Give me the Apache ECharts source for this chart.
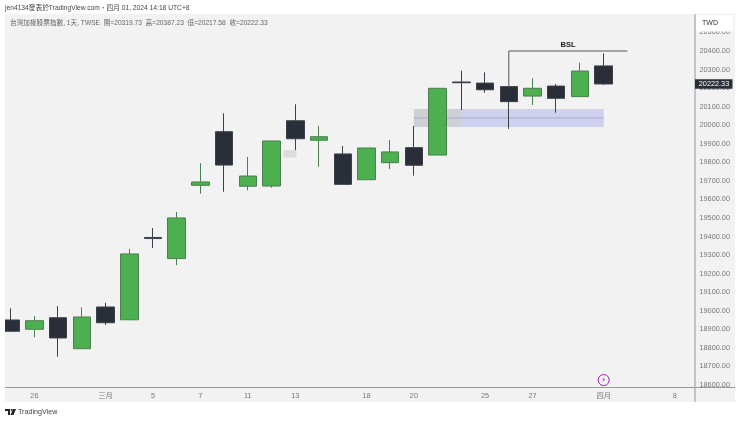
<!DOCTYPE html>
<html>
<head>
<meta charset="utf-8">
<style>html,body{margin:0;padding:0;background:#fff}#c{width:740px;height:421px}</style>
<script src="https://cdn.jsdelivr.net/npm/echarts@6/dist/echarts.min.js"></script>
</head>
<body>
<div id="c"></div>
<script>
// open, close, low, high for each trading day, in order
const opens  = [18950,18900,18962,18795,19020,18951,19395,19281,19676,19965,19671,19672,20024,19919,19845,19706,19798,19879,19839,20233,20227,20208,20157,20211,20154,20319.73];
const closes = [18889,18946,18853,18966,18935,19306,19389,19500,19694,19785,19726,19915,19927,19938,19681,19877,19856,19784,20199,20229,20191,20127,20199,20145,20292,20222.33];
const lows   = [18885,18857,18752,18795,18923,18950,19338,19246,19631,19641,19649,19663,19866,19776,19681,19706,19764,19728,19839,20082,20175,19980,20109,20067,20154,20217.58];
const highs  = [19013,18971,19025,19018,19043,19333,19446,19532,19795,20064,19829,19915,20113,19996,19888,19877,19920,19996,20199,20294,20285,20208,20253,20222,20337,20387.23];

const xTickIndex  = [1,4,6,8,10,12,15,17,20,22,25,28];
const xTickLabels = ['26','三月','5','7','11','13','18','20','25','27','四月','8'];
const yTicks = [18600,18700,18800,18900,19000,19100,19200,19300,19400,19500,19600,19700,19800,19900,20000,20100,20200,20300,20400,20500];

const bslLevel = 20400, bslStartIndex = 21, bslEndIndex = 26, bslLabelIndex = 23.5;
const zoneTop = 20087, zoneBottom = 19990, zoneMid = 20039;
const zoneStartIndex = 17, zoneSplitIndex = 19, zoneEndIndex = 25;
const grayBox = [11.5, 12.05, 19866, 19826];
const flashPoint = [25, 18626];

const shareLine = 'jen4134發表於TradingView.com・四月 01, 2024 14:18 UTC+8';
const legendLine = '台灣加權股票指數, 1天, TWSE  開=20319.73  高=20387.23  低=20217.58  收=20222.33';

const FONT = '"Liberation Sans","Noto Sans CJK TC",sans-serif';
const candles = opens.map((o,i)=>[i,o,closes[i],lows[i],highs[i]]);
const chart = echarts.init(document.getElementById('c'),null,{renderer:'canvas'});
const baseGraphics = [
  {type:'rect',silent:true,z:-10,shape:{x:695,y:14,width:40,height:388},style:{fill:'#f2f2f2'}},
  {type:'rect',silent:true,z:-10,shape:{x:5,y:387,width:730,height:15},style:{fill:'#f2f2f2'}},
  {type:'rect',silent:true,z:30,shape:{x:0,y:14,width:5,height:374},style:{fill:'#ffffff'}},
  {type:'line',silent:true,z:20,shape:{x1:5,y1:387.5,x2:735,y2:387.5},style:{stroke:'#9a9a9a',lineWidth:1}},
  {type:'line',silent:true,z:20,shape:{x1:695,y1:14,x2:695,y2:402},style:{stroke:'#b4b4b4',lineWidth:1.5}},
  {type:'rect',silent:true,z:21,shape:{x:696,y:15,width:37,height:16.5},style:{fill:'#ffffff'}},
  {type:'text',silent:true,z:22,x:702,y:23.5,style:{text:'TWD',font:'7px '+FONT,fill:'#333',textVerticalAlign:'middle'}},
  {type:'text',silent:true,x:5,y:8.5,style:{text:shareLine,font:'6.7px '+FONT,fill:'#444',textVerticalAlign:'middle'}},
  {type:'text',silent:true,z:22,x:10,y:23,style:{text:legendLine,font:'6.65px '+FONT,fill:'#666',textVerticalAlign:'middle'}},
  {type:'polygon',silent:true,shape:{points:[[5,409],[10,409],[10,415],[8,415],[8,411],[5,411]]},style:{fill:'#222'}},
  {type:'circle',silent:true,shape:{cx:11.7,cy:410,r:1},style:{fill:'#222'}},
  {type:'polygon',silent:true,shape:{points:[[13,409],[16,409],[13.5,415],[10.5,415]]},style:{fill:'#222'}},
  {type:'text',silent:true,x:18,y:412,style:{text:'TradingView',font:'7.2px '+FONT,fill:'#444',textVerticalAlign:'middle'}}
];
chart.setOption({
  animation:false,
  backgroundColor:'#ffffff',
  textStyle:{fontFamily:FONT},
  grid:{show:true,left:5,right:45,top:14,bottom:33.7,backgroundColor:'#f2f2f2',borderWidth:0},
  xAxis:{type:'value',min:-0.24,max:28.85,splitLine:{show:false},
    axisLine:{show:false},axisTick:{show:false},
    axisLabel:{customValues:xTickIndex,margin:5,fontSize:7.3,color:'#777',
      formatter:v=>xTickLabels[xTickIndex.indexOf(v)]}},
  yAxis:{type:'value',position:'right',min:18587,max:20599.5,scale:true,splitLine:{show:false},
    axisLine:{show:false},axisTick:{show:false},
    axisLabel:{customValues:yTicks,margin:4.5,fontSize:7.3,color:'#777',formatter:v=>v.toFixed(2)}},
  graphic:baseGraphics,
  series:[
    {type:'line',name:'zones',data:[[zoneStartIndex,zoneMid],[zoneEndIndex,zoneMid]],symbol:'none',z:2,
      lineStyle:{color:'#a9a9d2',width:1},
      markArea:{silent:true,data:[
        [{xAxis:zoneStartIndex,yAxis:zoneTop,itemStyle:{color:'#cfcfee'}},{xAxis:zoneEndIndex,yAxis:zoneBottom}],
        [{xAxis:zoneStartIndex,yAxis:zoneTop,itemStyle:{color:'#cfcfd6'}},{xAxis:zoneSplitIndex,yAxis:zoneBottom}],
        [{xAxis:grayBox[0],yAxis:grayBox[2],itemStyle:{color:'#dcdcdc'}},{xAxis:grayBox[1],yAxis:grayBox[3]}]
      ]}},
    {type:'candlestick',name:'TWSE',z:3,barWidth:18,
      encode:{x:0,y:[1,2,3,4]},
      data:candles,
      itemStyle:{color:'#4caf50',color0:'#2a2e39',borderColor:'#4a7f4e',borderColor0:'#3d4049',borderColorDoji:'#3d4049',borderWidth:1},
      markPoint:{silent:true,data:[{coord:flashPoint,symbol:'circle',symbolSize:11,
        itemStyle:{color:'#f2f2f2',borderColor:'#9c27b0',borderWidth:1},
        label:{show:true,position:'inside',formatter:'⚡',fontSize:7,color:'#9c27b0',fontFamily:'DejaVu Sans'}}]}},
    {type:'line',name:'BSL',z:4,symbol:'none',
      data:[[bslStartIndex,highs[bslStartIndex]],[bslStartIndex,bslLevel],[bslLabelIndex,bslLevel],[bslEndIndex,bslLevel]],
      lineStyle:{color:'#555',width:1},
      markPoint:{silent:true,symbol:'rect',symbolSize:1,itemStyle:{color:'rgba(0,0,0,0)'},
        data:[{coord:[bslLabelIndex,bslLevel]}],
        label:{show:true,position:'top',distance:1.5,formatter:'BSL',fontSize:7.6,fontWeight:'bold',color:'#222'}}}
  ]
});
// Current-price tag positioned through the axis scale
const priceY = chart.convertToPixel({yAxisIndex:0},closes[closes.length-1]);
chart.setOption({graphic:baseGraphics.concat([
  {type:'rect',silent:true,z:23,shape:{x:695,y:priceY-4.7,width:37.5,height:9.4},style:{fill:'#2a2e39'}},
  {type:'text',silent:true,z:24,x:714,y:priceY,style:{text:closes[closes.length-1].toFixed(2),font:'7.3px '+FONT,fill:'#fff',textAlign:'center',textVerticalAlign:'middle'}}
])});
</script>
</body>
</html>
